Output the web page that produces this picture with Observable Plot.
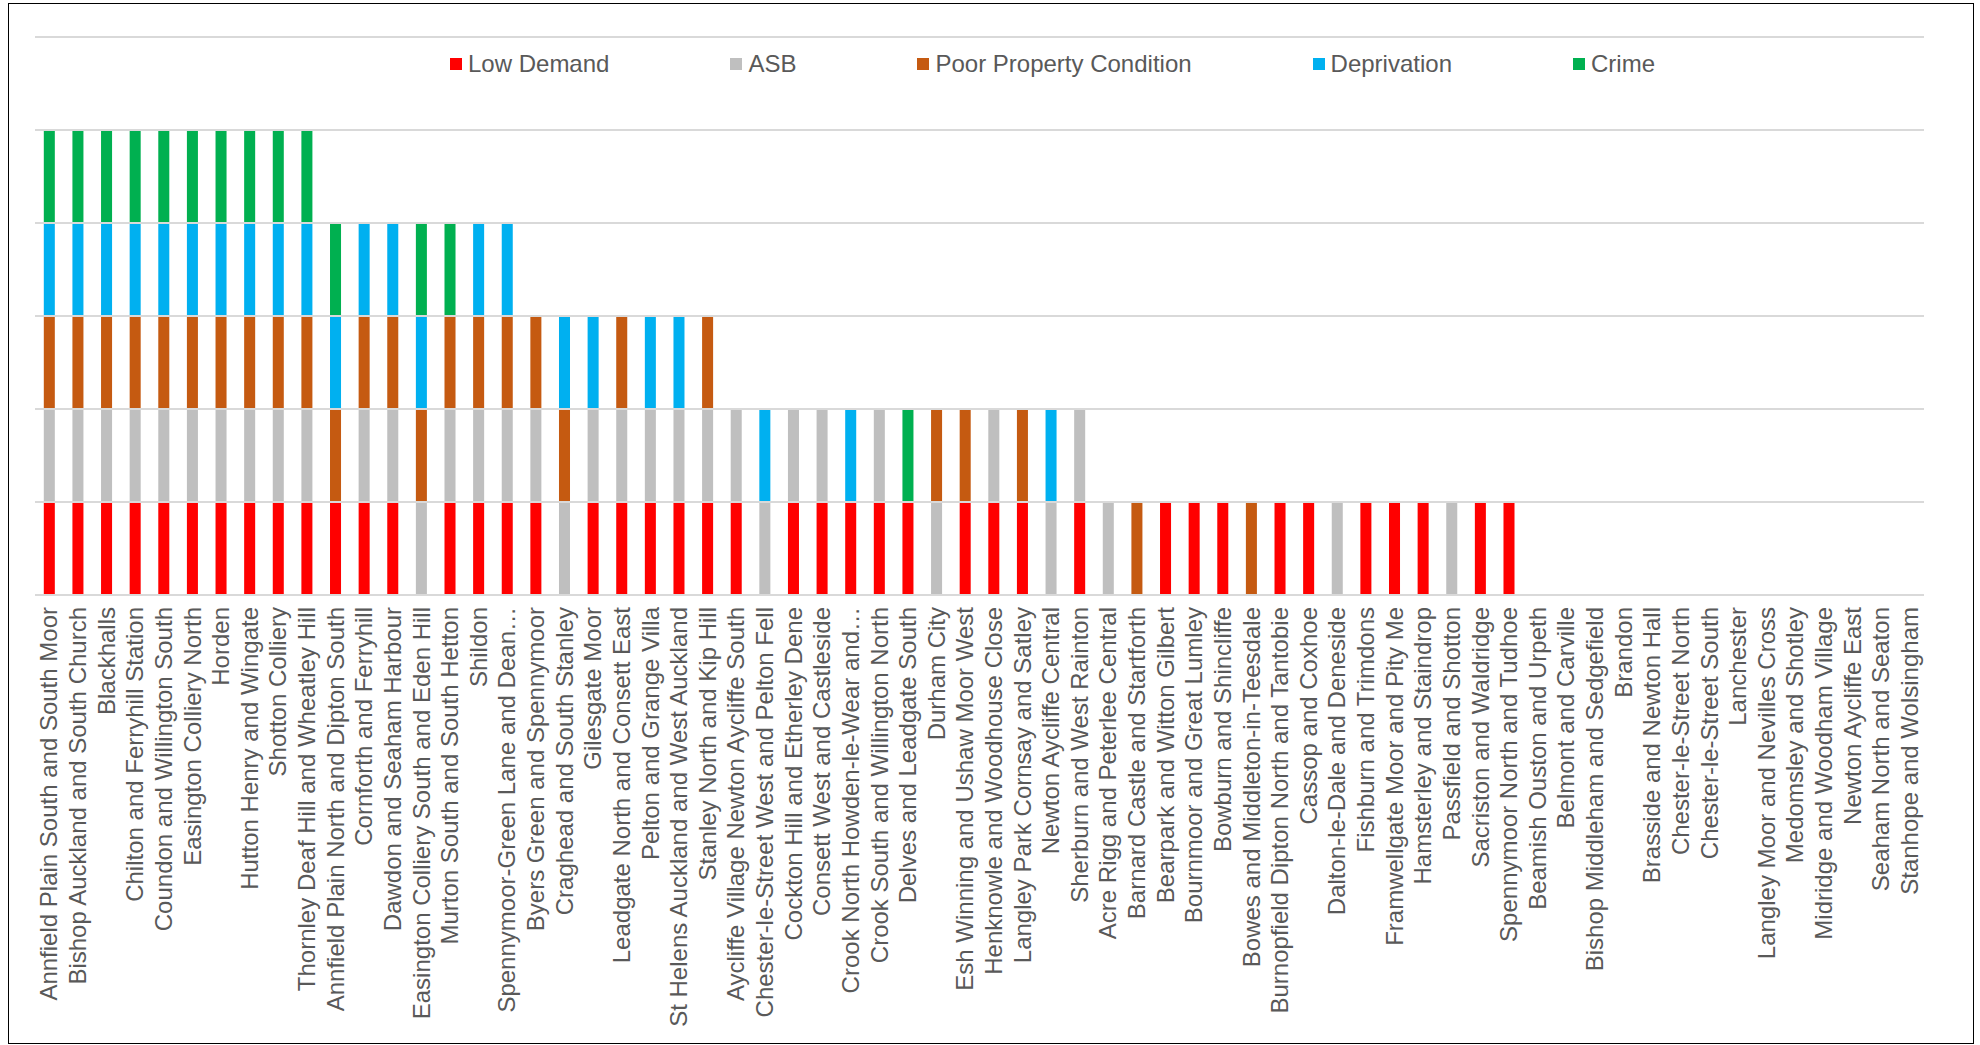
<!DOCTYPE html>
<html>
<head>
<meta charset="utf-8">
<script src="https://cdn.jsdelivr.net/npm/d3@7"></script>
<script src="https://cdn.jsdelivr.net/npm/@observablehq/plot@0.6"></script>
<style>
html, body { margin: 0; padding: 0; background: #fff; }
#wrap { position: relative; width: 1980px; height: 1045px; overflow: hidden; font-family: "Liberation Sans", Arial, sans-serif; }
#frame { position: absolute; left: 8px; top: 3px; width: 1966px; height: 1041px; border: 1.5px solid #000; box-sizing: border-box; pointer-events: none; }
#chart { position: absolute; left: 0; top: 0; }
#legend { position: absolute; left: 450px; top: 52px; height: 24px; display: flex; align-items: center; gap: 121px; font-size: 24px; line-height: 24px; color: #595959; }
.item { display: flex; align-items: center; white-space: nowrap; }
.sw { width: 12px; height: 12px; margin-right: 6px; flex: none; }
</style>
</head>
<body>
<div id="wrap">
  <div id="chart"></div>
  <div id="legend"></div>
  <div id="frame"></div>
</div>
<script>
const categories = [
  "Annfield Plain South and South Moor",
  "Bishop Auckland and South Church",
  "Blackhalls",
  "Chilton and Ferryhill Station",
  "Coundon and Willington South",
  "Easington Colliery North",
  "Horden",
  "Hutton Henry and Wingate",
  "Shotton Colliery",
  "Thornley Deaf Hill and Wheatley Hill",
  "Annfield Plain North and Dipton South",
  "Cornforth and Ferryhill",
  "Dawdon and Seaham Harbour",
  "Easington Colliery South and Eden Hill",
  "Murton South and South Hetton",
  "Shildon",
  "Spennymoor-Green Lane and Dean…",
  "Byers Green and Spennymoor",
  "Craghead and South Stanley",
  "Gilesgate Moor",
  "Leadgate North and Consett East",
  "Pelton and Grange Villa",
  "St Helens Auckland and West Auckland",
  "Stanley North and Kip Hill",
  "Aycliffe Village Newton Aycliffe South",
  "Chester-le-Street West and Pelton Fell",
  "Cockton Hill and Etherley Dene",
  "Consett West and Castleside",
  "Crook North Howden-le-Wear and…",
  "Crook South and Willington North",
  "Delves and Leadgate South",
  "Durham City",
  "Esh Winning and Ushaw Moor West",
  "Henknowle and Woodhouse Close",
  "Langley Park Cornsay and Satley",
  "Newton Aycliffe Central",
  "Sherburn and West Rainton",
  "Acre Rigg and Peterlee Central",
  "Barnard Castle and Startforth",
  "Bearpark and Witton Gilbert",
  "Bournmoor and Great Lumley",
  "Bowburn and Shincliffe",
  "Bowes and Middleton-in-Teesdale",
  "Burnopfield Dipton North and Tantobie",
  "Cassop and Coxhoe",
  "Dalton-le-Dale and Deneside",
  "Fishburn and Trimdons",
  "Framwellgate Moor and Pity Me",
  "Hamsterley and Staindrop",
  "Passfield and Shotton",
  "Sacriston and Waldridge",
  "Spennymoor North and Tudhoe",
  "Beamish Ouston and Urpeth",
  "Belmont and Carville",
  "Bishop Middleham and Sedgefield",
  "Brandon",
  "Brasside and Newton Hall",
  "Chester-le-Street North",
  "Chester-le-Street South",
  "Lanchester",
  "Langley Moor and Nevilles Cross",
  "Medomsley and Shotley",
  "Midridge and Woodham Village",
  "Newton Aycliffe East",
  "Seaham North and Seaton",
  "Stanhope and Wolsingham"
];

const seriesNames = ["Low Demand", "ASB", "Poor Property Condition", "Deprivation", "Crime"];
const seriesColors = ["#FF0000", "#BFBFBF", "#C55A11", "#00B0F0", "#00B050"];

const lowDemand = [1,1,1,1,1,1,1,1,1,1, 1,1,1,0,1,1,1,1,0,1,1,1,1,1, 1,0,1,1,1,1,1,0,1,1,1,0,1,0,0,1,1,1,0,1,1,0,1,1,1,0,1,1, 0,0,0,0,0,0,0,0,0,0,0,0,0,0];
const asb       = [1,1,1,1,1,1,1,1,1,1, 0,1,1,1,1,1,1,1,1,1,1,1,1,1, 1,1,1,1,0,1,0,1,0,1,0,1,1,1,0,0,0,0,0,0,0,1,0,0,0,1,0,0, 0,0,0,0,0,0,0,0,0,0,0,0,0,0];
const poorProperty = [1,1,1,1,1,1,1,1,1,1, 1,1,1,1,1,1,1,1,1,0,1,0,0,1, 0,0,0,0,0,0,0,1,1,0,1,0,0,0,1,0,0,0,1,0,0,0,0,0,0,0,0,0, 0,0,0,0,0,0,0,0,0,0,0,0,0,0];
const deprivation = [1,1,1,1,1,1,1,1,1,1, 1,1,1,1,0,1,1,0,1,1,0,1,1,0, 0,1,0,0,1,0,0,0,0,0,0,1,0,0,0,0,0,0,0,0,0,0,0,0,0,0,0,0, 0,0,0,0,0,0,0,0,0,0,0,0,0,0];
const crime     = [1,1,1,1,1,1,1,1,1,1, 1,0,0,1,1,0,0,0,0,0,0,0,0,0, 0,0,0,0,0,0,1,0,0,0,0,0,0,0,0,0,0,0,0,0,0,0,0,0,0,0,0,0, 0,0,0,0,0,0,0,0,0,0,0,0,0,0];

const gridValues = [0, 1, 2, 3, 4, 5, 6];

const seriesValues = [lowDemand, asb, poorProperty, deprivation, crime];
const rows = [];
categories.forEach((c, i) => {
  seriesNames.forEach((s, j) => {
    const v = seriesValues[j][i];
    if (v > 0) rows.push({area: c, factor: s, value: v});
  });
});

const chart = Plot.plot({
  width: 1980,
  height: 1045,
  marginLeft: 35,
  marginRight: 56,
  marginTop: 36.5,
  marginBottom: 1045 - 594.5,
  style: { fontFamily: "'Liberation Sans', Arial, sans-serif", background: "transparent", color: "#595959" },
  x: { domain: categories, paddingInner: 0.615, paddingOuter: 0.3075, label: null },
  y: { domain: [0, 6], axis: null },
  color: { domain: seriesNames, range: seriesColors },
  marks: [
    Plot.barY(rows, { x: "area", y: "value", fill: "factor", order: seriesNames }),
    Plot.ruleY(gridValues, { stroke: "#d9d9d9", strokeWidth: 2 }),
    Plot.axisX({ tickRotate: -90, tickSize: 0, tickPadding: 12, fontSize: 24, fill: "#595959", label: null })
  ]
});
document.getElementById("chart").appendChild(chart);

const legend = document.getElementById("legend");
seriesNames.forEach((s, i) => {
  const item = document.createElement("div");
  item.className = "item";
  const sw = document.createElement("span");
  sw.className = "sw";
  sw.style.background = seriesColors[i];
  const t = document.createElement("span");
  t.textContent = s;
  item.appendChild(sw);
  item.appendChild(t);
  legend.appendChild(item);
});
</script>
</body>
</html>
